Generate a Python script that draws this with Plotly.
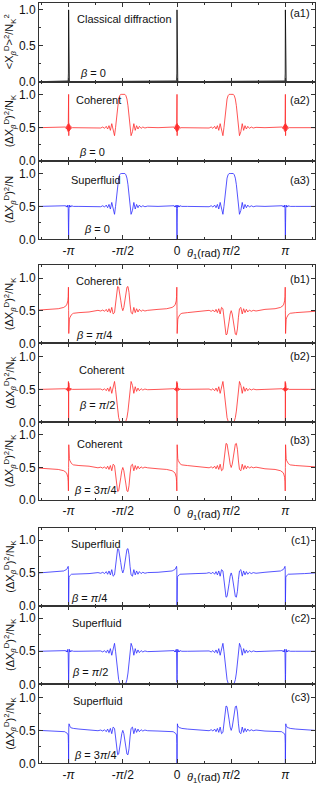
import plotly.graph_objects as go

# ---------------- data ----------------
PI = 3.14159265

# shared theta grid, written per region
x_edge_l = [-4.0, -3.7]
x_sing_mpi = [-3.442, -3.282, -3.252, -3.227, -3.207, -3.190, -3.176, -3.164, -3.154, -3.147, -3.1416,
              -3.137, -3.130, -3.120, -3.108, -3.094, -3.077, -3.057, -3.032, -3.002, -2.842]
x_gap1 = [-2.55]
x_bump_mhalf = [-2.291, -2.211, -2.151, -2.101, -2.051, -2.011, -1.971, -1.931, -1.891, -1.851, -1.811,
                -1.781, -1.751, -1.721, -1.691, -1.661, -1.631, -1.601, -1.5708, -1.541, -1.511, -1.481,
                -1.451, -1.421, -1.391, -1.361, -1.331, -1.291, -1.251, -1.211, -1.171, -1.131, -1.091,
                -1.041, -0.991, -0.931, -0.851]
x_gap2 = [-0.55]
x_sing_0 = [-0.30, -0.14, -0.11, -0.085, -0.065, -0.048, -0.034, -0.022, -0.012, -0.005, 0.0,
            0.005, 0.012, 0.022, 0.034, 0.048, 0.065, 0.085, 0.11, 0.14, 0.30]
x_gap3 = [0.55]
x_bump_phalf = [0.851, 0.931, 0.991, 1.041, 1.091, 1.131, 1.171, 1.211, 1.251, 1.291, 1.331, 1.361,
                1.391, 1.421, 1.451, 1.481, 1.511, 1.541, 1.5708, 1.601, 1.631, 1.661, 1.691, 1.721,
                1.751, 1.781, 1.811, 1.851, 1.891, 1.931, 1.971, 2.011, 2.051, 2.101, 2.151, 2.211, 2.291]
x_gap4 = [2.55]
x_sing_pi = [2.842, 3.002, 3.032, 3.057, 3.077, 3.094, 3.108, 3.120, 3.130, 3.137, 3.1416,
             3.147, 3.154, 3.164, 3.176, 3.190, 3.207, 3.227, 3.252, 3.282, 3.442]
x_edge_r = [3.7, 4.0]

theta = (x_edge_l + x_sing_mpi + x_gap1 + x_bump_mhalf + x_gap2 + x_sing_0 + x_gap3
         + x_bump_phalf + x_gap4 + x_sing_pi + x_edge_r)

# classical diffraction (a1)
a1_theta = [-4.0, -3.20, -3.164, -3.154, -3.147, -3.1416, -3.137, -3.130, -3.120, -3.08,
            -0.06, -0.022, -0.012, -0.005, 0.0, 0.005, 0.012, 0.022, 0.06,
            3.08, 3.120, 3.130, 3.137, 3.1416, 3.147, 3.154, 3.164, 3.20, 4.0]
a1_val = [0, 0, 0.01, 0.02, 0.12, 1.0, 0.12, 0.02, 0.01, 0,
          0, 0.01, 0.02, 0.12, 1.0, 0.12, 0.02, 0.01, 0,
          0, 0.01, 0.02, 0.12, 1.0, 0.12, 0.02, 0.01, 0, 0]

# features around theta = +-pi/2
bump_peak = [0.505, 0.495, 0.51, 0.49, 0.52, 0.48, 0.53, 0.46, 0.56, 0.44, 0.38, 0.50, 0.67, 0.83, 0.93, 0.98, 1.0, 1.0,
             1.0,
             1.0, 1.0, 0.98, 0.93, 0.83, 0.67, 0.50, 0.38, 0.44, 0.56, 0.46, 0.53, 0.48, 0.52, 0.49, 0.51, 0.495, 0.505]
bump_trough = [0.495, 0.505, 0.49, 0.51, 0.48, 0.52, 0.47, 0.54, 0.44, 0.56, 0.62, 0.50, 0.33, 0.17, 0.07, 0.02, 0.0, 0.0,
               0.0,
               0.0, 0.0, 0.02, 0.07, 0.17, 0.33, 0.50, 0.62, 0.56, 0.44, 0.54, 0.47, 0.52, 0.48, 0.51, 0.49, 0.505, 0.495]
twin_peak = [0.505, 0.495, 0.51, 0.49, 0.52, 0.48, 0.53, 0.47, 0.55, 0.45, 0.47, 0.60, 0.78, 0.87, 0.86, 0.78, 0.66, 0.55,
             0.50,
             0.55, 0.66, 0.78, 0.86, 0.87, 0.78, 0.60, 0.47, 0.45, 0.55, 0.47, 0.53, 0.48, 0.52, 0.49, 0.51, 0.495, 0.505]
twin_dip = [0.495, 0.505, 0.49, 0.51, 0.48, 0.52, 0.47, 0.53, 0.45, 0.55, 0.53, 0.40, 0.22, 0.13, 0.14, 0.22, 0.34, 0.45,
            0.50,
            0.45, 0.34, 0.22, 0.14, 0.13, 0.22, 0.40, 0.53, 0.55, 0.45, 0.53, 0.47, 0.52, 0.48, 0.51, 0.49, 0.505, 0.495]

# features around theta = -pi, 0, pi
sing_coh_b0 = [0.5, 0.5, 0.5, 0.51, 0.48, 0.53, 0.46, 0.55, 0.44, 0.62, 1.0, 0.38, 0.56, 0.45, 0.54, 0.47, 0.52, 0.49, 0.5, 0.5, 0.5]
sing_sf_b0 = [0.5, 0.5, 0.5, 0.51, 0.49, 0.51, 0.49, 0.52, 0.47, 0.25, 0.0, 0.25, 0.47, 0.52, 0.49, 0.51, 0.49, 0.51, 0.5, 0.5, 0.5]
sing_coh_b45 = [0.53, 0.55, 0.56, 0.57, 0.58, 0.60, 0.62, 0.65, 0.72, 0.86, 0.50, 0.15, 0.30, 0.36, 0.39, 0.41, 0.43, 0.44, 0.45, 0.46, 0.47]
sing_coh_b90 = [0.5, 0.5, 0.5, 0.51, 0.49, 0.52, 0.48, 0.53, 0.47, 0.62, 0.02, 0.60, 0.47, 0.53, 0.48, 0.52, 0.49, 0.51, 0.5, 0.5, 0.5]
sing_coh_b135 = [0.47, 0.45, 0.44, 0.43, 0.42, 0.40, 0.38, 0.35, 0.28, 0.14, 0.50, 0.85, 0.70, 0.64, 0.61, 0.59, 0.57, 0.56, 0.55, 0.54, 0.53]
sing_sf_b45 = [0.52, 0.53, 0.54, 0.54, 0.55, 0.56, 0.57, 0.58, 0.60, 0.55, 0.0, 0.30, 0.43, 0.45, 0.46, 0.47, 0.47, 0.48, 0.48, 0.48, 0.49]
sing_sf_b90 = [0.5, 0.5, 0.5, 0.51, 0.49, 0.51, 0.49, 0.53, 0.46, 0.15, 0.03, 0.15, 0.46, 0.53, 0.49, 0.51, 0.49, 0.51, 0.5, 0.5, 0.5]
sing_sf_b135 = [0.49, 0.48, 0.48, 0.47, 0.47, 0.46, 0.45, 0.44, 0.43, 0.30, 0.0, 0.55, 0.60, 0.57, 0.56, 0.55, 0.54, 0.54, 0.53, 0.53, 0.52]

# baseline values at the plain stretches: [edge_l(2), gap1, gap2, gap3, gap4, edge_r(2)]
base_flat = [0.5, 0.5, 0.5, 0.5, 0.5, 0.5, 0.5, 0.5]
base_coh45 = [0.51, 0.52, 0.48, 0.52, 0.48, 0.52, 0.48, 0.49]
base_coh135 = [0.49, 0.48, 0.52, 0.48, 0.52, 0.48, 0.52, 0.51]
base_sf45 = [0.50, 0.51, 0.49, 0.51, 0.49, 0.51, 0.49, 0.50]
base_sf135 = [0.50, 0.49, 0.51, 0.49, 0.51, 0.49, 0.51, 0.50]


def assemble(base, sing, bump_m, bump_p):
    return (base[0:2] + sing + [base[2]] + bump_m + [base[3]] + sing + [base[4]]
            + bump_p + [base[5]] + sing + base[6:8])


a2_val = assemble(base_flat, sing_coh_b0, bump_peak, bump_peak)
a3_val = assemble(base_flat, sing_sf_b0, bump_peak, bump_peak)
b1_val = assemble(base_coh45, sing_coh_b45, twin_peak, twin_dip)
b2_val = assemble(base_flat, sing_coh_b90, bump_trough, bump_trough)
b3_val = assemble(base_coh135, sing_coh_b135, twin_dip, twin_peak)
c1_val = assemble(base_sf45, sing_sf_b45, twin_peak, twin_dip)
c2_val = assemble(base_flat, sing_sf_b90, bump_trough, bump_trough)
c3_val = assemble(base_sf135, sing_sf_b135, twin_dip, twin_peak)

x_tickvals = [-PI, -PI / 2, 0, PI / 2, PI]
x_ticktext = ["-<i>π</i>", "-<i>π</i>/2", "0", "<i>π</i>/2", "<i>π</i>"]
x_minor = [-5 * PI / 4, -3 * PI / 4, -PI / 4, PI / 4, 3 * PI / 4, 5 * PI / 4]
y_tickvals = [0, 0.5, 1.0]
y_ticktext = ["0.0", "0.5", "1.0"]

# ---------------- layout ----------------
W, H = 317, 788
L, R = 39, 2
FONT = "Liberation Sans"
RED = "#ff2a2a"
BLUE = "#2a2aff"
TICK_SIZE = 12
NOTE_SIZE = 11

YT_A1 = "&lt;X<sub><i>β</i></sub><sup>D</sup>&gt;<sup>2</sup>/N<sub>K</sub><sup>2</sup>"
YT_K = "(ΔX<sub><i>β</i></sub><sup>D</sup>)<sup>2</sup>/N<sub>K</sub>"
YT_N = "(ΔX<sub><i>β</i></sub><sup>D</sup>)<sup>2</sup>/N"

panels = [
    dict(pt=2.7, pb=81.7, ytop=1.1, x=a1_theta, y=a1_val, color="black", name="Classical diffraction",
         beta="<i>β</i> = 0", npos=(-2.95, 0.88), bpos=(-2.87, 0.12), tag="(a1)", tagy=0.95, yt=YT_A1, xl=False),
    dict(pt=81.7, pb=161.0, ytop=1.19, x=theta, y=a2_val, color=RED, name="Coherent",
         beta="<i>β</i> = 0", npos=(-3.0, 0.92), bpos=(-2.9, 0.13), tag="(a2)", tagy=0.92, yt=YT_K, xl=False),
    dict(pt=161.0, pb=239.3, ytop=1.19, x=theta, y=a3_val, color=BLUE, name="Superfluid",
         beta="<i>β</i> = 0", npos=(-3.14, 0.9), bpos=(-2.75, 0.15), tag="(a3)", tagy=0.9, yt=YT_N, xl=True),
    dict(pt=265.0, pb=343.3, ytop=1.2, x=theta, y=b1_val, color=RED, name="Coherent",
         beta="<i>β</i> = <i>π</i>/4", npos=(-2.98, 0.96), bpos=(-2.98, 0.13), tag="(b1)", tagy=0.98, yt=YT_K, xl=False),
    dict(pt=343.3, pb=422.3, ytop=1.2, x=theta, y=b2_val, color=RED, name="Coherent",
         beta="<i>β</i> = <i>π</i>/2", npos=(-2.9, 0.8), bpos=(-2.9, 0.26), tag="(b2)", tagy=1.0, yt=YT_K, xl=False),
    dict(pt=422.3, pb=500.0, ytop=1.195, x=theta, y=b3_val, color=RED, name="Coherent",
         beta="<i>β</i> = 3<i>π</i>/4", npos=(-2.95, 0.86), bpos=(-3.05, 0.15), tag="(b3)", tagy=0.92, yt=YT_K, xl=True),
    dict(pt=527.7, pb=605.7, ytop=1.19, x=theta, y=c1_val, color=BLUE, name="Superfluid",
         beta="<i>β</i> = <i>π</i>/4", npos=(-3.12, 0.94), bpos=(-3.12, 0.11), tag="(c1)", tagy=1.0, yt=YT_K, xl=False),
    dict(pt=605.7, pb=684.3, ytop=1.19, x=theta, y=c2_val, color=BLUE, name="Superfluid",
         beta="<i>β</i> = <i>π</i>/2", npos=(-3.1, 0.93), bpos=(-3.1, 0.19), tag="(c2)", tagy=1.0, yt=YT_K, xl=False),
    dict(pt=684.3, pb=763.3, ytop=1.2, x=theta, y=c3_val, color=BLUE, name="Superfluid",
         beta="<i>β</i> = 3<i>π</i>/4", npos=(-3.08, 0.95), bpos=(-3.05, 0.12), tag="(c3)", tagy=1.0, yt=YT_K, xl=True),
]

fig = go.Figure()
layout = dict(
    width=W, height=H, margin=dict(l=L, r=R, t=0, b=0),
    paper_bgcolor="white", plot_bgcolor="white", showlegend=False,
    font=dict(family=FONT, size=11, color="#111"),
)
annotations = []
axis_line = "#333"

for i, p in enumerate(panels, start=1):
    xs = "" if i == 1 else str(i)
    fig.add_trace(go.Scatter(x=p["x"], y=p["y"], mode="lines",
                             line=dict(color=p["color"], width=0.8),
                             xaxis="x" + xs, yaxis="y" + xs, hoverinfo="skip"))
    dom = [1 - p["pb"] / H, 1 - p["pt"] / H]
    layout["xaxis" + xs] = dict(
        domain=[0, 1], range=[-4, 4], anchor="y" + xs, showgrid=False, zeroline=False,
        showline=True, linecolor=axis_line, linewidth=1, mirror="ticks",
        ticks="inside", ticklen=4, tickwidth=1, tickcolor=axis_line,
        tickvals=x_tickvals, ticktext=x_ticktext, showticklabels=p["xl"],
        tickfont=dict(size=TICK_SIZE, family=FONT, color="#111"), automargin=False,
        minor=dict(tickvals=x_minor, ticks="inside", ticklen=2, tickcolor=axis_line),
    )
    layout["yaxis" + xs] = dict(
        domain=dom, range=[0, p["ytop"]], anchor="x" + xs, showgrid=False, zeroline=False,
        showline=True, linecolor=axis_line, linewidth=1, mirror="ticks",
        ticks="inside", ticklen=4, tickwidth=1, tickcolor=axis_line,
        tickvals=y_tickvals, ticktext=y_ticktext,
        tickfont=dict(size=TICK_SIZE, family=FONT, color="#111"), automargin=False,
        minor=dict(tickvals=[0.25, 0.75], ticks="inside", ticklen=2, tickcolor=axis_line),
    )
    xr, yr = "x" + xs, "y" + xs
    annotations.append(dict(x=p["npos"][0], y=p["npos"][1], xref=xr, yref=yr, text=p["name"],
                            showarrow=False, xanchor="left", yanchor="middle",
                            font=dict(size=NOTE_SIZE, family=FONT, color="#111")))
    annotations.append(dict(x=p["bpos"][0], y=p["bpos"][1], xref=xr, yref=yr, text=p["beta"],
                            showarrow=False, xanchor="left", yanchor="middle",
                            font=dict(size=NOTE_SIZE, family=FONT, color="#111")))
    annotations.append(dict(x=3.9, y=p["tagy"], xref=xr, yref=yr, text=p["tag"],
                            showarrow=False, xanchor="right", yanchor="middle",
                            font=dict(size=NOTE_SIZE, family=FONT, color="#111")))
    annotations.append(dict(x=(10 - L) / (W - L - R), y=0.5, xref="paper", yref=yr + " domain",
                            text=p["yt"], textangle=-90, showarrow=False,
                            xanchor="center", yanchor="middle",
                            font=dict(size=11, family=FONT, color="#111")))
    if p["xl"]:
        annotations.append(dict(x=0.76, y=1 - (p["pb"] + 15) / H, xref=xr, yref="paper",
                                text="<i>θ</i><sub>1</sub>(rad)", showarrow=False,
                                xanchor="center", yanchor="middle",
                                font=dict(size=11, family=FONT, color="#111")))

layout["annotations"] = annotations
fig.update_layout(**layout)
fig.write_html("out.html", config={"displayModeBar": False},
               post_script="document.body.style.margin='0px';")
